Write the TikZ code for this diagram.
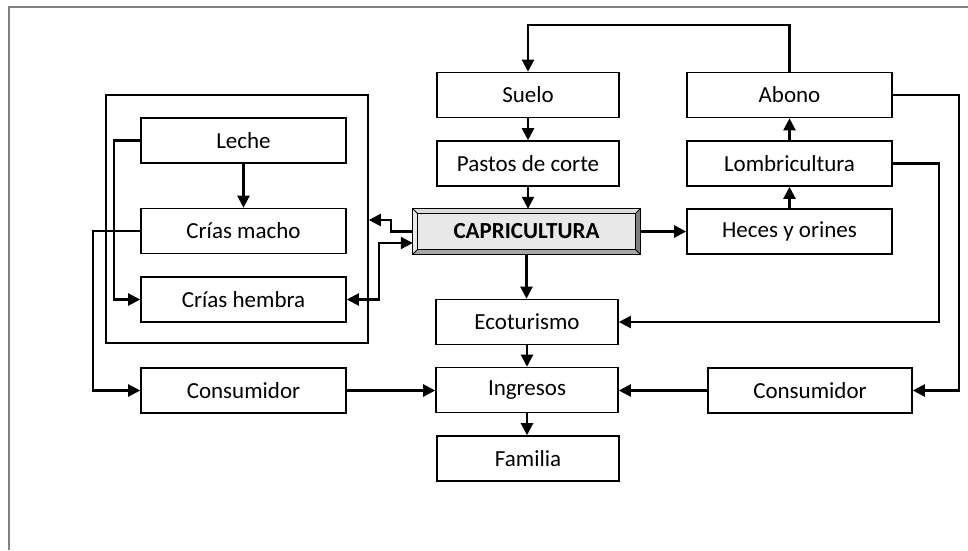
\documentclass[tikz,border=0pt]{standalone}
\usepackage{fontspec}
\setmainfont{Carlito}
\usetikzlibrary{arrows.meta,calc}
\begin{document}
\begin{tikzpicture}[x=1pt,y=-1pt,
  box/.style={draw, line width=1.6pt, fill=white, minimum width=#1,
    minimum height=45pt, inner sep=0pt, font=\fontsize{23}{27}\selectfont},
  box/.default=182pt,
  sidebox/.style={box=205pt},
  conn/.style={line width=2.2pt, -{Triangle[length=12pt,width=12pt]}},
  twoway/.style={line width=2.2pt,
    {Triangle[length=12pt,width=12pt]}-{Triangle[length=12pt,width=12pt]}},
  bevelline/.style={line width=0.9pt}]
\useasboundingbox (0,0) rectangle (968,550);

% page frame
\draw[gray, line width=1.2pt] (9,550) -- (9,7) -- (968,7);

% enclosing frame of the offspring group
\node[draw, line width=1.6pt, minimum width=262pt, minimum height=248pt,
  inner sep=0pt] (group) at (237,219) {};

% central column
\node[box] (suelo)    at (528,95)    {Suelo};
\node[box] (pastos)   at (528,163.5) {Pastos de corte};
\node[minimum width=227pt, minimum height=45pt, inner sep=0pt] (capri) at (526.5,231.5) {};
\node[box] (eco)      at (527,322)   {Ecoturismo};
\node[box] (ingresos) at (527,390)   {Ingresos};
\node[box] (familia)  at (528,458.5) {Familia};

% right column
\node[sidebox] (abono)  at (789.5,95)    {Abono};
\node[sidebox] (lombri) at (789.5,163.5) {Lombricultura};
\node[sidebox] (heces)  at (789.5,231.5) {Heces y orines};
\node[box=204pt] (consR) at (810,390.5)  {Consumidor};

% left column
\node[sidebox] (leche)  at (243.5,140.5) {Leche};
\node[sidebox] (macho)  at (243.5,231)   {Crías macho};
\node[sidebox] (hembra) at (243.5,299.5) {Crías hembra};
\node[sidebox] (consL)  at (243.5,390.5) {Consumidor};

% bevelled CAPRICULTURA box
\coordinate (iNW) at ($(capri.north west)+(5,5)$);
\coordinate (iNE) at ($(capri.north east)+(-5,5)$);
\coordinate (iSW) at ($(capri.south west)+(5,-5)$);
\coordinate (iSE) at ($(capri.south east)+(-5,-5)$);
\fill[black!14] (capri.north west) -- (capri.north east) -- (iNE) -- (iNW) -- cycle;
\fill[black!8]  (capri.north west) -- (iNW) -- (iSW) -- (capri.south west) -- cycle;
\fill[black!35] (capri.south west) -- (iSW) -- (iSE) -- (capri.south east) -- cycle;
\fill[black!50] (capri.north east) -- (capri.south east) -- (iSE) -- (iNE) -- cycle;
\fill[black!9] (iNW) rectangle (iSE);
\draw[bevelline] (capri.north west) rectangle (capri.south east);
\draw[bevelline] (iNW) rectangle (iSE);
\draw[bevelline] (capri.north west) -- (iNW)
  (capri.north east) -- (iNE)
  (capri.south west) -- (iSW)
  (capri.south east) -- (iSE);
\node[font=\bfseries\fontsize{23}{27}\selectfont] (capritext) at (capri.center) {CAPRICULTURA};

% bend points
\coordinate (looptop) at (0,25);
\coordinate (jA) at (391,220);
\coordinate (jB) at (379,299.5);
\coordinate (jC) at (114,0);
\coordinate (jD) at (93,0);
\coordinate (jE) at (939,0);
\coordinate (jF) at (959,0);

% connectors of the central column
\draw[conn] (abono.north) -- (abono.north |- looptop) -| (suelo.north);
\draw[conn] (suelo.south) -- (pastos.north);
\draw[conn] (pastos.south) -- (pastos.south |- capri.north);
\draw[conn] (capri.south) -- (capri.south |- eco.north);
\draw[conn] (eco.south) -- (eco.south |- ingresos.north);
\draw[conn] (ingresos.south) -- (ingresos.south |- familia.north);

% right branch
\draw[conn] (capri.east) -- (heces.west);
\draw[conn] (heces.north) -- (lombri.south);
\draw[conn] (lombri.north) -- (abono.south);
\draw[conn] (lombri.east) -- (lombri.east -| jE) |- (eco.east);
\draw[conn] (abono.east) -- (abono.east -| jF) |- (consR.east);
\draw[conn] (consR.west) -- (consR.west -| ingresos.east);

% left branch
\draw[conn] (capri.west) -- (capri.west -| jA) -- (jA) -- (jA -| group.east);
\draw[twoway] (hembra.east) -- (jB) |- ([yshift=-11.5pt]capri.west);
\draw[conn] (leche.south) -- (macho.north);
\draw[conn] (leche.west) -- (leche.west -| jC) |- (hembra.west);
\draw[conn] (macho.west) -- (macho.west -| jD) |- (consL.west);
\draw[conn] (consL.east) -- (consL.east -| ingresos.west);
\end{tikzpicture}
\end{document}
